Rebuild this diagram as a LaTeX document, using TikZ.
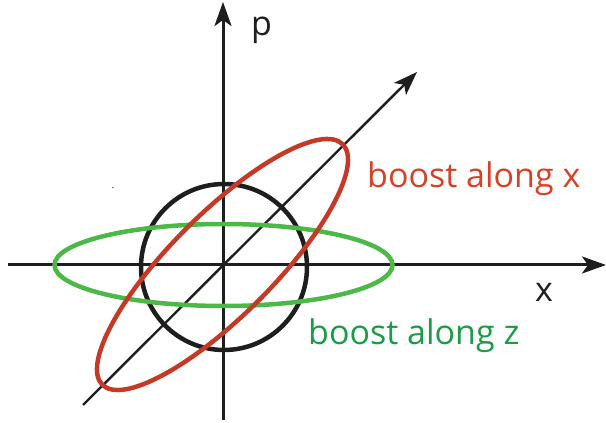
\documentclass[tikz,border=0pt]{standalone}
\usepackage{fontspec}
\setmainfont{Open Sans}
\usetikzlibrary{arrows.meta}
\definecolor{ellred}{RGB}{196,58,38}
\definecolor{ellgreen}{RGB}{76,184,72}
\definecolor{txtred}{RGB}{214,66,40}
\definecolor{txtgreen}{RGB}{26,156,72}
\definecolor{axisblack}{RGB}{30,30,30}
\tikzset{
  axis/.style={draw=axisblack, line width=3pt, -{Stealth[length=24pt,width=17pt,inset=6pt]}},
  diag/.style={draw=axisblack, line width=2.4pt, -{Stealth[length=24pt,width=17pt,inset=6pt]}},
  lbl/.style={inner sep=0pt, anchor=base west, font=\fontsize{34}{38}\selectfont},
}
\begin{document}
\begin{tikzpicture}[x=1pt,y=1pt]
\useasboundingbox (0,0) rectangle (606,423);
\coordinate (O) at (223,158);
\coordinate (xl) at (8,158);
\coordinate (xr) at (606,158);
\coordinate (pb) at (223,3);
\coordinate (pt) at (223,421);
\coordinate (dl) at (83,18);
\coordinate (dr) at (417,351);
% axes
\draw[axis] (xl) -- (xr);
\draw[axis] (pb) -- (pt);
\draw[diag] (dl) -- (dr);
% circle
\draw[axisblack, line width=4.5pt] (224,156) circle (83);
% green ellipse (boost along z)
\draw[ellgreen, line width=4.5pt] (223.5,158) ellipse [x radius=169, y radius=41];
% red ellipse (boost along x)
\draw[ellred, line width=4.5pt, rotate around={45:(222.5,158.5)}] (222.5,158.5) ellipse [x radius=170, y radius=51];
% speck
\fill[gray] (111.5,234.5) rectangle (113.5,235.5);
% labels
\node[lbl, text=axisblack] (plabel) at (251,387) {p};
\node[lbl, text=axisblack] (xlabel) at (535,121) {x};
\node[lbl, text=txtred] (bx) at (367,235) {boost along x};
\node[lbl, text=txtgreen] (bz) at (308,78) {boost along z};
\end{tikzpicture}
\end{document}
